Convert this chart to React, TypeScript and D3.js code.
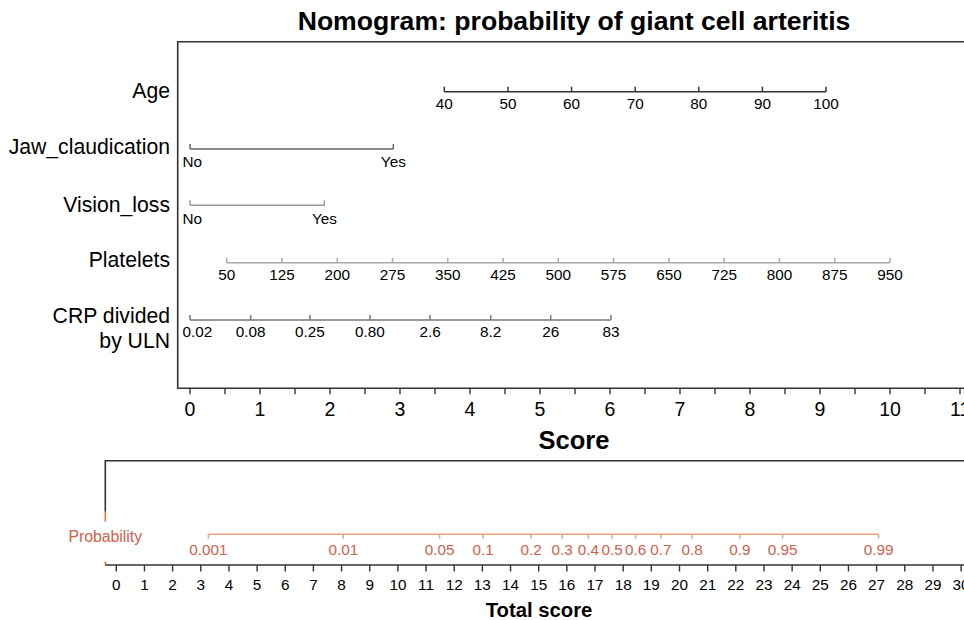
import React from "react";
import * as d3 from "d3";

// ---------- data ----------
const title = "Nomogram: probability of giant cell arteritis";
const scoreTicks = [0, 1, 2, 3, 4, 5, 6, 7, 8, 9, 10, 11];
const scoreMinorTicks = [0.5, 1.5, 2.5, 3.5, 4.5, 5.5, 6.5, 7.5, 8.5, 9.5, 10.5];

const ageTicks = [40, 50, 60, 70, 80, 90, 100];
const ageScoreRange = [3.633, 9.086]; // score of age 40 and age 100

const jawLabels = ["No", "Yes"];
const jawScores = [0, 2.905];

const visionLabels = ["No", "Yes"];
const visionScores = [0, 1.92];

const plateletTicks = [50, 125, 200, 275, 350, 425, 500, 575, 650, 725, 800, 875, 950];
const plateletScoreRange = [0.524, 10.0]; // score of 50 and of 950

const crpLabels = ["0.02", "0.08", "0.25", "0.80", "2.6", "8.2", "26", "83"];
const crpScores = [0, 0.867, 1.714, 2.571, 3.429, 4.296, 5.153, 6.014];

const totalTicks = d3.range(0, 31);
const probLabels = ["0.001", "0.01", "0.05", "0.1", "0.2", "0.3", "0.4", "0.5", "0.6", "0.7", "0.8", "0.9", "0.95", "0.99"];
const probTotalScores = [3.27, 8.06, 11.48, 13.03, 14.73, 15.83, 16.76, 17.61, 18.44, 19.34, 20.45, 22.14, 23.66, 27.07];

// ---------- layout ----------
const W = 964;
const H = 620;
const FONT = "'Liberation Sans', Arial, Helvetica, sans-serif";

const frameLeft = 177.7;
const frameTop = 41.7;
const axisY = 388.3;

const x = d3.scaleLinear().domain([0, 10]).range([190, 890]);
const ageToScore = d3.scaleLinear().domain([40, 100]).range(ageScoreRange);
const pltToScore = d3.scaleLinear().domain([50, 950]).range(plateletScoreRange);
const xt = d3.scaleLinear().domain([0, 30]).range([116.3, 961.1]);

const TICK_FS = 15.3;

type Row = {
  name: string[];
  nameY: number;
  y: number;
  color: string;
  labelDy: number;
  ticks: { x: number; label: string }[];
  firstStart?: boolean;
};

const rows: Row[] = [
  {
    name: ["Age"],
    nameY: 98.3,
    y: 91.7,
    color: "#333333",
    labelDy: 17.3,
    ticks: ageTicks.map((a) => ({ x: x(ageToScore(a)), label: String(a) })),
  },
  {
    name: ["Jaw_claudication"],
    nameY: 154,
    y: 149,
    color: "#666666",
    labelDy: 17.7,
    ticks: jawLabels.map((l, i) => ({ x: x(jawScores[i]), label: l })),
    firstStart: true,
  },
  {
    name: ["Vision_loss"],
    nameY: 211.7,
    y: 205.3,
    color: "#9a9a9a",
    labelDy: 19,
    ticks: visionLabels.map((l, i) => ({ x: x(visionScores[i]), label: l })),
    firstStart: true,
  },
  {
    name: ["Platelets"],
    nameY: 267.3,
    y: 262.7,
    color: "#aaaaaa",
    labelDy: 17.3,
    ticks: plateletTicks.map((p) => ({ x: x(pltToScore(p)), label: String(p) })),
  },
  {
    name: ["CRP divided", "by ULN"],
    nameY: 323.3,
    y: 320,
    color: "#777777",
    labelDy: 16.7,
    ticks: crpLabels.map((l, i) => ({ x: x(crpScores[i]), label: l })),
    firstStart: true,
  },
];

const probLineY = 534.3;
const totalAxisY = 565;
const bottomLeft = 105.3;
const bottomTop = 460.7;
const probTextColor = "#d2604a";
const probLineColor = "#e9a679";
const frameColor = "#333333";

export default function App() {
  return (
    <div style={{ position: "absolute", left: 0, top: 0, width: W, height: H, background: "#fff" }}>
      <svg width={W} height={H} viewBox={`0 0 ${W} ${H}`} style={{ display: "block", fontFamily: FONT }}>
        <rect x={0} y={0} width={W} height={H} fill="#fff" />
        {/* title */}
        <text x={574} y={30} textAnchor="middle" fontSize={26.6} fontWeight="bold" fill="#000">
          {title}
        </text>

        {/* top frame */}
        <path
          d={`M${W + 2},${frameTop}H${frameLeft}V${axisY}H${W + 2}`}
          fill="none"
          stroke={frameColor}
          strokeWidth={1.6}
        />

        {/* score axis ticks */}
        {scoreTicks.concat(scoreMinorTicks).map((t) => (
          <line key={"st" + t} x1={x(t)} x2={x(t)} y1={axisY} y2={axisY + 6} stroke={frameColor} strokeWidth={1.4} />
        ))}
        {scoreTicks.map((t) => (
          <text key={"sl" + t} x={x(t)} y={416} textAnchor="middle" fontSize={19.5} fill="#000">
            {t}
          </text>
        ))}
        <text x={574} y={449} textAnchor="middle" fontSize={25.5} fontWeight="bold" fill="#000">
          Score
        </text>

        {/* variable rows */}
        {rows.map((r, ri) => {
          const x0 = r.ticks[0].x;
          const x1 = r.ticks[r.ticks.length - 1].x;
          return (
            <g key={"row" + ri}>
              {r.name.map((n, ni) => (
                <text key={ni} x={170} y={r.nameY + ni * 25} textAnchor="end" fontSize={21.2} fill="#000">
                  {n}
                </text>
              ))}
              <line x1={x0} x2={x1} y1={r.y} y2={r.y} stroke={r.color} strokeWidth={1.6} />
              {r.ticks.map((t, ti) => (
                <g key={ti}>
                  <line x1={t.x} x2={t.x} y1={r.y} y2={r.y - 5} stroke={r.color} strokeWidth={1.5} />
                  <text
                    x={ti === 0 && r.firstStart ? t.x - 7.5 : t.x}
                    y={r.y + r.labelDy}
                    textAnchor={ti === 0 && r.firstStart ? "start" : "middle"}
                    fontSize={TICK_FS}
                    fill="#000"
                  >
                    {t.label}
                  </text>
                </g>
              ))}
            </g>
          );
        })}

        {/* bottom panel frame */}
        <path d={`M${W + 2},${bottomTop}H${bottomLeft}V511.7`} fill="none" stroke={frameColor} strokeWidth={1.6} />
        <line x1={bottomLeft} x2={bottomLeft} y1={511.7} y2={521.7} stroke="#e07b39" strokeWidth={1.6} />
        <line x1={bottomLeft} x2={bottomLeft} y1={561.5} y2={totalAxisY} stroke="#e07b39" strokeWidth={1.6} />

        {/* probability axis */}
        <text x={bottomLeft} y={541.7} textAnchor="middle" fontSize={15.8} fill={probTextColor}>
          Probability
        </text>
        <line
          x1={xt(probTotalScores[0])}
          x2={xt(probTotalScores[probTotalScores.length - 1])}
          y1={probLineY}
          y2={probLineY}
          stroke={probLineColor}
          strokeWidth={1.6}
        />
        {probTotalScores.map((s, i) => (
          <g key={"p" + i}>
            <line x1={xt(s)} x2={xt(s)} y1={probLineY} y2={probLineY + 4.5} stroke={probLineColor} strokeWidth={1.5} />
            <text x={xt(s)} y={555} textAnchor="middle" fontSize={TICK_FS} fill={probTextColor}>
              {probLabels[i]}
            </text>
          </g>
        ))}

        {/* total score axis */}
        <line x1={bottomLeft} x2={W + 2} y1={totalAxisY} y2={totalAxisY} stroke={frameColor} strokeWidth={1.6} />
        {totalTicks.map((t) => (
          <g key={"tt" + t}>
            <line x1={xt(t)} x2={xt(t)} y1={totalAxisY} y2={totalAxisY + 6.5} stroke={frameColor} strokeWidth={1.4} />
            <text x={xt(t)} y={590} textAnchor="middle" fontSize={TICK_FS} fill="#000">
              {t}
            </text>
          </g>
        ))}
        <text x={539} y={616.5} textAnchor="middle" fontSize={20.3} fontWeight="bold" fill="#000">
          Total score
        </text>
      </svg>
    </div>
  );
}
